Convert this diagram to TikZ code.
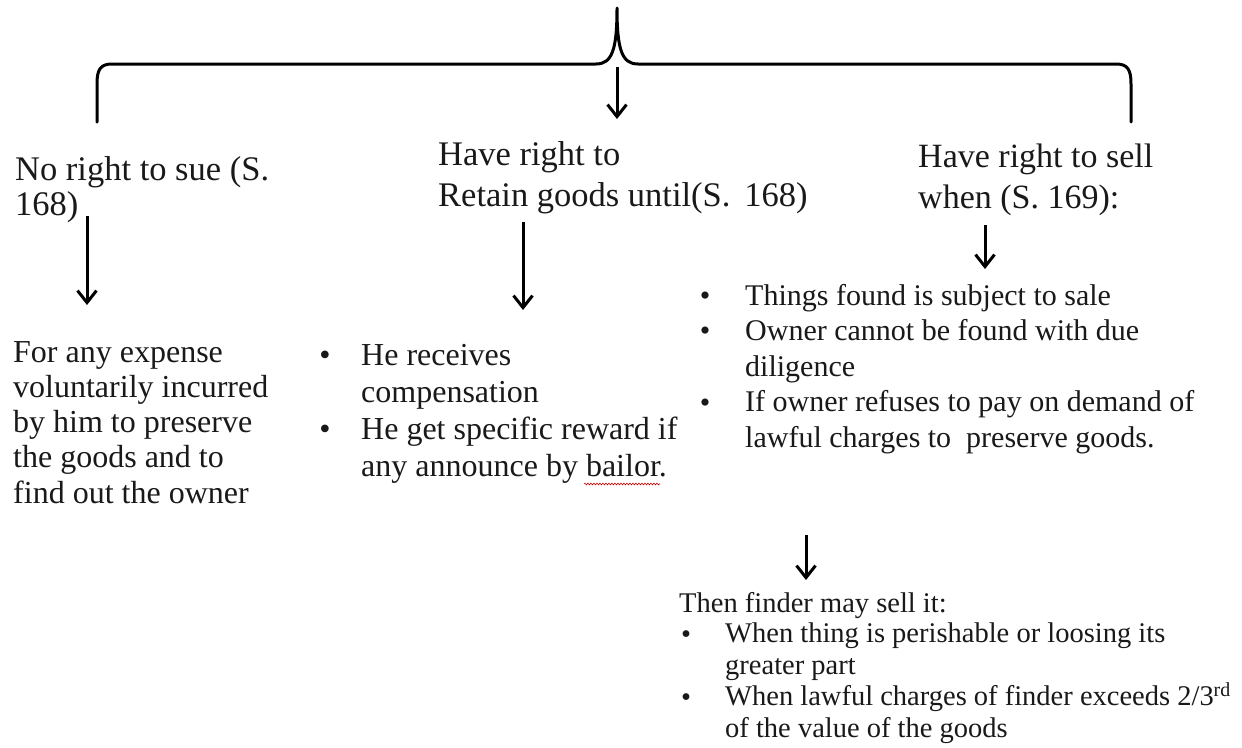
\documentclass[tikz,border=0pt]{standalone}
\usepackage{fontspec}
\setmainfont{Liberation Serif}
\usetikzlibrary{arrows.meta,decorations.pathmorphing}
\begin{document}
\begin{tikzpicture}[x=1pt,y=-1pt,
  txt/.style={inner sep=0pt, anchor=base west, align=left, text=black!90},
  bul/.style={inner sep=0pt, anchor=base, text=black!90},
  bracestyle/.style={line width=3pt, line cap=round, line join=round},
  arr/.style={line width=3pt, -{Straight Barb[length=12pt,width=19pt,line width=3pt]}},
  spell/.style={red!80!black, line width=0.6pt, decorate, decoration={snake, amplitude=0.9pt, segment length=3pt}}
]
\useasboundingbox (0,0) rectangle (1242,747);

% brace
\coordinate (bl) at (97,122);
\coordinate (br) at (1131,122);
\coordinate (bt) at (617,8);
\draw[bracestyle] (bl) -- (97,84) .. controls (97,70) and (100,64) .. (112,64) -- (596,64)
  .. controls (612,64) and (617,50) .. (bt)
  .. controls (617,50) and (622,64) .. (638,64) -- (1116,64)
  .. controls (1128,64) and (1131,70) .. (1131,84) -- (br);

% headings (anchored at the baseline of their last line)
\node[txt, font=\fontsize{34.5}{35}\selectfont] (lh) at (15,215) {No right to sue (S.\\168)};
\node[txt, font=\fontsize{34.5}{41}\selectfont] (mh) at (438,206) {Have right to\\Retain goods until(S.\hspace{0.4em}168)};
\node[txt, font=\fontsize{34}{41}\selectfont] (rh) at (918,208) {Have right to sell\\when (S. 169):};

% left body
\node[txt, font=\fontsize{32}{35.25}\selectfont] (lb) at (13,503) {For any expense\\voluntarily incurred\\by him to preserve\\the goods and to\\find out the owner};

% middle list
\node[txt, font=\fontsize{32}{37}\selectfont] (mb) at (361,476) {He receives\\compensation\\He get specific reward if\\any announce by bailor.};
\node[bul, font=\fontsize{32}{36}\selectfont] (mb1) at (325,365) {•};
\node[bul, font=\fontsize{32}{36}\selectfont] (mb2) at (325,439) {•};

% right list
\node[txt, font=\fontsize{30}{35.5}\selectfont] (rb) at (745,447) {Things found is subject to sale\\Owner cannot be found with due\\diligence\\If owner refuses to pay on demand of\\lawful charges to\ \ preserve goods.};
\node[bul, font=\fontsize{30}{35}\selectfont] (rb1) at (705,305) {•};
\node[bul, font=\fontsize{30}{35}\selectfont] (rb2) at (705,340) {•};
\node[bul, font=\fontsize{30}{35}\selectfont] (rb3) at (705,412) {•};

% bottom
\node[txt, font=\fontsize{28.5}{32}\selectfont] (bh) at (679,612) {Then finder may sell it:};
\node[txt, font=\fontsize{28.5}{31.5}\selectfont] (bb) at (725,737) {When thing is perishable or loosing its\\greater part\\When lawful charges of finder exceeds 2/3\textsuperscript{rd}\\of the value of the goods};
\node[bul, font=\fontsize{28.5}{32}\selectfont] (bb1) at (686,643) {•};
\node[bul, font=\fontsize{28.5}{32}\selectfont] (bb2) at (686,706) {•};

% arrows
\coordinate (ca1) at (617,67);
\coordinate (ca2) at (617,119);
\draw[arr] (ca1) -- (ca2);
\coordinate (la1) at (87,216);
\coordinate (la2) at (87,305);
\draw[arr] (la1) -- (la2);
\coordinate (ma1) at (523,222);
\coordinate (ma2) at (523,310);
\draw[arr] (ma1) -- (ma2);
\coordinate (ra1) at (985,225);
\coordinate (ra2) at (985,269);
\draw[arr] (ra1) -- (ra2);
\coordinate (ba1) at (806,535);
\coordinate (ba2) at (806,580);
\draw[arr] (ba1) -- (ba2);

% spell-check underline
\coordinate (sp1) at (584,484);
\coordinate (sp2) at (660,484);
\draw[spell] (sp1) -- (sp2);
\end{tikzpicture}
\end{document}
